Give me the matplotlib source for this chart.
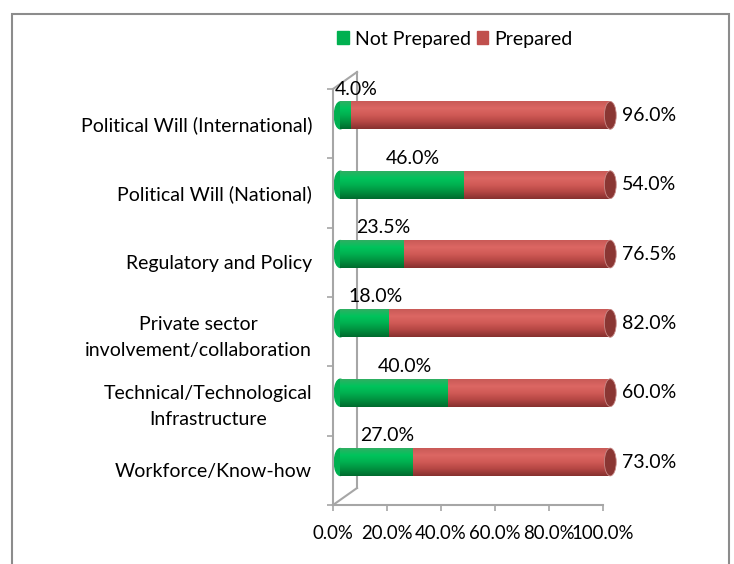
import matplotlib
matplotlib.use('Agg')
import matplotlib.pyplot as plt
import numpy as np
from matplotlib.patches import Rectangle, Ellipse, Patch
from matplotlib.colors import LinearSegmentedColormap

categories = ['Political Will (International)', 'Political Will (National)',
              'Regulatory and Policy', 'Private sector\ninvolvement/collaboration',
              'Technical/Technological\nInfrastructure', 'Workforce/Know-how']
not_prepared = [4.0, 46.0, 23.5, 18.0, 40.0, 27.0]
prepared = [96.0, 54.0, 76.5, 82.0, 60.0, 73.0]
xticks = [0, 20, 40, 60, 80, 100]

plt.rcParams['font.family'] = ['Lato', 'DejaVu Sans']
FS = 14

W, H = 734, 564
fig = plt.figure(figsize=(W / 100, H / 100), dpi=100)
# axes placed so that 0..100 % maps on pixels 333..603 and categories span 89..505
ax = fig.add_axes([333 / W, 1 - 505 / H, 270 / W, 416 / H])
ax.set_xlim(0, 100)
ax.set_ylim(5.5, -0.5)

# fake 3D: bars sit a bit to the right and up from the front axis
BX = 2.7
BY = -0.12
BH = 0.40
DX, DY = 8.9, -0.245
CAP = 4.4

green_cm = LinearSegmentedColormap.from_list('g', ['#2fae62', '#00c45c', '#00b050', '#00903f', '#006b2e'])
red_cm = LinearSegmentedColormap.from_list('r', ['#c95a57', '#dc6763', '#d05a56', '#b44643', '#86312f'])
grad = np.linspace(0, 1, 64).reshape(-1, 1)


def segment(x0, w, yc, cmap):
    ax.imshow(grad, cmap=cmap, aspect='auto', interpolation='bilinear',
              extent=(x0, x0 + w, yc + BH / 2, yc - BH / 2), zorder=3, clip_on=False)


for i, (npv, pv) in enumerate(zip(not_prepared, prepared)):
    yc = i + BY
    # rounded left end of the cylinder
    ax.add_patch(Ellipse((BX, yc), CAP, BH * 0.97, color='#00b050', zorder=2, clip_on=False))
    segment(BX, npv, yc, green_cm)
    segment(BX + npv, pv, yc, red_cm)
    ax.add_patch(Ellipse((BX + npv + pv, yc), CAP, BH, facecolor='#8a3633',
                         edgecolor='#c98a88', lw=0.6, zorder=4, clip_on=False))
    ax.text(BX + npv / 2 + 4, i - 0.5, f'{npv:.1f}%', ha='center', va='center',
            fontsize=FS, zorder=5, clip_on=False)
    ax.text(107, yc, f'{pv:.1f}%', ha='left', va='center', fontsize=FS,
            zorder=5, clip_on=False)

# back wall / depth lines
wall = dict(color='#a6a6a6', lw=1.5, zorder=1, clip_on=False)
ax.plot([DX, DX], [-0.5 + DY, 5.5 + DY], **wall)
ax.plot([0, DX], [-0.5, -0.5 + DY], **wall)
ax.plot([0, DX], [5.5, 5.5 + DY], **wall)

for s in ['top', 'right']:
    ax.spines[s].set_visible(False)
for s in ['left', 'bottom']:
    ax.spines[s].set_color('#a6a6a6')
    ax.spines[s].set_linewidth(1.5)

ax.set_xticks(xticks)
ax.set_xticklabels([f'{v:.1f}%' for v in xticks], fontsize=13.4)
ax.tick_params(axis='x', length=4.5, width=1.2, color='#a6a6a6', pad=10)

ax.set_yticks(range(len(categories)))
ax.set_yticklabels(categories, fontsize=FS, multialignment='center', linespacing=1.6)
ax.set_yticks(np.arange(-0.5, 6, 1), minor=True)
ax.tick_params(axis='y', which='major', length=0, pad=15)
ax.tick_params(axis='y', which='minor', length=4.5, width=1.2, color='#a6a6a6')
ax.patch.set_visible(False)

handles = [Patch(color='#00b050', label='Not Prepared'), Patch(color='#c0504d', label='Prepared')]
fig.legend(handles=handles, loc='center', bbox_to_anchor=(455 / W, 1 - 39 / H), ncol=2,
           frameon=False, fontsize=FS, handlelength=0.6, handleheight=0.6,
           handletextpad=0.3, columnspacing=0.3)

fig.add_artist(Rectangle((12 / W, -0.1), 717 / W, 1.1 - 14 / H, transform=fig.transFigure,
                         fill=False, edgecolor='#8c8c8c', lw=1.5))

fig.savefig('out.png', dpi=100)
